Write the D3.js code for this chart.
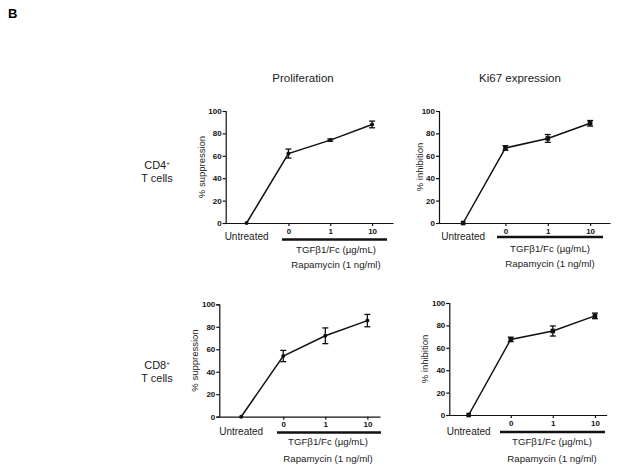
<!DOCTYPE html>
<html><head><meta charset="utf-8">
<script src="https://cdn.jsdelivr.net/npm/d3@7"></script>
<style>body{margin:0;background:#fff}svg{display:block;font-family:"Liberation Sans",Arial,sans-serif}</style>
</head><body><svg id="c" width="624" height="470"></svg>
<script>
const categories = ["Untreated", "0", "1", "10"];
const yTicks = [0, 20, 40, 60, 80, 100];
const cd4Proliferation = [0, 62, 74, 88];
const cd4ProliferationErr = [0, 4, 1, 3];
const cd4Ki67 = [0, 67, 75.5, 89];
const cd4Ki67Err = [0, 2, 3.5, 2.5];
const cd8Proliferation = [0, 54, 72, 85.5];
const cd8ProliferationErr = [0, 5, 7, 5.5];
const cd8Ki67 = [0, 67.5, 75, 88.5];
const cd8Ki67Err = [0, 2, 4.5, 2.5];
const columnTitles = ["Proliferation", "Ki67 expression"];
const rowLabels = [["CD4", "T cells"], ["CD8", "T cells"]];

const svg = d3.select("#c");
const black = "#111";

svg.append("text").attr("x", 8).attr("y", 18).attr("font-size", 13).attr("font-weight", "bold").text("B");

const panels = [
  {vals: cd4Proliferation, err: cd4ProliferationErr, ylab: "% suppression", marker: "circle",
   x0: 225.7, x1: 393, y0: 223, y1: 111, dom: [-0.5, 3.5], ylx: 202, bar: [282, 387], barY: 239.5, untY: 240, tgfY: 253, rapY: 268, labCx: 336},
  {vals: cd4Ki67, err: cd4Ki67Err, ylab: "% inhibition", marker: "square",
   x0: 439, x1: 610, y0: 223, y1: 111, dom: [-0.57, 3.47], ylx: 420, bar: [497, 603], barY: 237, untY: 240, tgfY: 251.5, rapY: 266.5, labCx: 550},
  {vals: cd8Proliferation, err: cd8ProliferationErr, ylab: "% suppression", marker: "circle",
   x0: 219.3, x1: 380, y0: 416.7, y1: 304.3, dom: [-0.52, 3.3], ylx: 195, bar: [277, 381], barY: 432.5, untY: 434.5, tgfY: 445, rapY: 461.5, labCx: 328},
  {vals: cd8Ki67, err: cd8Ki67Err, ylab: "% inhibition", marker: "square",
   x0: 449.3, x1: 606.7, y0: 415, y1: 303, dom: [-0.46, 3.28], ylx: 425, bar: [500, 605], barY: 432, untY: 434.5, tgfY: 445, rapY: 461.5, labCx: 552}
];

// Column titles
svg.append("text").attr("x", 303).attr("y", 82).attr("text-anchor", "middle").attr("font-size", 11.5).attr("fill", "#222").text(columnTitles[0]);
svg.append("text").attr("x", 520).attr("y", 82).attr("text-anchor", "middle").attr("font-size", 11.5).attr("fill", "#222").text(columnTitles[1]);

// Row labels
[[168.5, 181.5], [368.5, 381.5]].forEach((ys, i) => {
  const t = svg.append("text").attr("x", 157).attr("y", ys[0]).attr("text-anchor", "middle").attr("font-size", 11).attr("fill", "#222");
  t.append("tspan").text(rowLabels[i][0]);
  t.append("tspan").attr("font-size", 6).attr("dy", -4).text("+");
  svg.append("text").attr("x", 157).attr("y", ys[1]).attr("text-anchor", "middle").attr("font-size", 11).attr("fill", "#222").text(rowLabels[i][1]);
});

panels.forEach(p => {
  const g = svg.append("g");
  const x = d3.scaleLinear().domain(p.dom).range([p.x0, p.x1]);
  const y = d3.scaleLinear().domain([0, 100]).range([p.y0, p.y1]);

  // y axis
  const ya = g.append("g").attr("transform", `translate(${p.x0},0)`)
    .call(d3.axisLeft(y).tickValues(yTicks).tickSize(3).tickPadding(1));
  ya.select(".domain").attr("stroke", black).attr("stroke-width", 1.2);
  ya.selectAll(".tick line").attr("stroke", black).attr("stroke-width", 1.2);
  ya.selectAll(".tick text").attr("font-size", 8).attr("font-weight", "bold").attr("fill", black).attr("font-family", "Liberation Sans, Arial, sans-serif");

  // x axis
  const xa = g.append("g").attr("transform", `translate(0,${p.y0})`)
    .call(d3.axisBottom(x).tickValues([1, 2, 3]).tickFormat(i => categories[i]).tickSize(3).tickPadding(2).tickSizeOuter(0));
  xa.select(".domain").attr("stroke", black).attr("stroke-width", 1.2);
  xa.selectAll(".tick line").attr("stroke", black).attr("stroke-width", 1.2);
  xa.selectAll(".tick text").attr("font-size", 8).attr("font-weight", "bold").attr("fill", black).attr("font-family", "Liberation Sans, Arial, sans-serif");

  // y label
  g.append("text").attr("transform", `translate(${p.ylx},${(p.y0 + p.y1) / 2}) rotate(-90)`)
    .attr("text-anchor", "middle").attr("dy", "0.35em").attr("font-size", 9.5).attr("fill", "#222").text(p.ylab);

  // Untreated label
  g.append("text").attr("x", x(0)).attr("y", p.untY).attr("text-anchor", "middle").attr("font-size", 10).attr("fill", "#222").text(categories[0]);
  // thick bar
  g.append("line").attr("x1", p.bar[0]).attr("x2", p.bar[1]).attr("y1", p.barY).attr("y2", p.barY).attr("stroke", black).attr("stroke-width", 2.6);
  g.append("text").attr("x", p.labCx).attr("y", p.tgfY).attr("text-anchor", "middle").attr("font-size", 9.7).attr("fill", "#222").text("TGFβ1/Fc (µg/mL)");
  g.append("text").attr("x", p.labCx).attr("y", p.rapY).attr("text-anchor", "middle").attr("font-size", 9.7).attr("fill", "#222").text("Rapamycin (1 ng/ml)");

  // line
  const line = d3.line().x((d, i) => x(i)).y(d => y(d));
  g.append("path").datum(p.vals).attr("d", line).attr("fill", "none").attr("stroke", black).attr("stroke-width", 1.5);

  // error bars
  p.vals.forEach((v, i) => {
    const e = p.err[i];
    if (e <= 0) return;
    const cx = x(i);
    g.append("line").attr("x1", cx).attr("x2", cx).attr("y1", y(v - e)).attr("y2", y(v + e)).attr("stroke", black).attr("stroke-width", 1.3);
    [v - e, v + e].forEach(b => g.append("line").attr("x1", cx - 3).attr("x2", cx + 3).attr("y1", y(b)).attr("y2", y(b)).attr("stroke", black).attr("stroke-width", 1.3));
  });

  // markers
  p.vals.forEach((v, i) => {
    if (p.marker === "circle") {
      g.append("circle").attr("cx", x(i)).attr("cy", y(v)).attr("r", 2).attr("fill", black);
    } else {
      g.append("rect").attr("x", x(i) - 2.3).attr("y", y(v) - 2.3).attr("width", 4.6).attr("height", 4.6).attr("fill", black);
    }
  });
});
</script></body></html>
